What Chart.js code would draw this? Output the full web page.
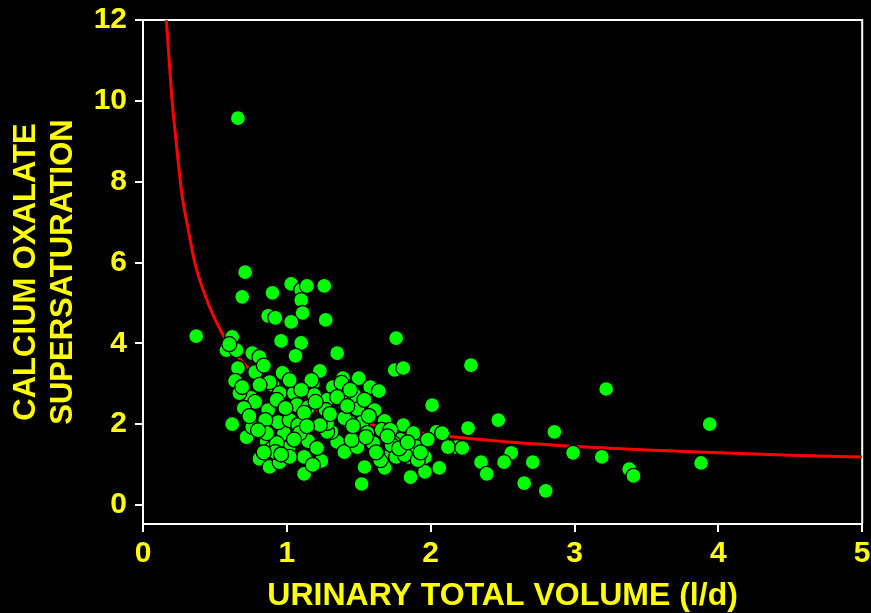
<!DOCTYPE html>
<html>
<head>
<meta charset="utf-8">
<script src="https://cdn.jsdelivr.net/npm/chart.js@4"></script>
<style>
  html, body { margin: 0; padding: 0; background: #000; }
  #chart { display: block; }
</style>
</head>
<body>
<canvas id="chart" width="871" height="613"></canvas>
<script>
// ---- data ----
// urinary total volume (l/d) for each patient
const volume = [
  0.66, 0.37, 0.71, 0.69, 0.90, 1.03, 1.10, 1.14, 1.10, 1.26, 1.11, 0.87, 0.92, 1.03, 1.27,
  0.62, 0.58, 0.65, 0.60, 0.96, 1.10, 1.06, 1.35, 1.76, 1.75, 1.81, 0.76, 0.81, 0.66, 0.78,
  0.64, 0.69, 0.75, 0.90, 0.95, 1.00, 0.97, 1.05, 1.23, 1.18, 1.39, 1.50, 1.58, 1.64, 1.32,
  1.38, 1.28, 0.87, 1.12, 1.27, 1.49, 1.52, 1.44, 0.62, 0.72, 0.76, 0.98, 0.86, 0.90, 1.01,
  0.81, 0.88, 1.15, 1.12, 1.24, 1.12, 1.35, 1.31, 1.40, 1.49, 1.68, 1.60, 1.54, 1.52, 1.68,
  1.79, 1.89, 1.85, 1.86, 1.96, 1.96, 1.65, 1.74, 0.94, 1.02, 1.08, 0.85, 0.67, 0.69, 0.93,
  1.07, 1.15, 1.09, 1.28, 0.93, 2.01, 1.38, 1.35, 1.81, 2.04, 2.18, 2.12, 2.06, 1.73, 1.45,
  2.47, 2.26, 2.22, 2.56, 2.51, 2.35, 2.39, 2.71, 2.65, 2.80, 2.08, 2.28, 2.86, 2.99, 3.19,
  3.22, 3.38, 3.41, 3.88, 3.94, 1.28, 1.56, 1.66, 1.73, 1.88, 1.76, 1.90, 0.78, 1.12, 0.86,
  0.95, 1.02, 0.92, 1.21, 1.18, 0.88, 1.17, 1.19, 1.47, 1.23, 1.40, 1.54, 1.02, 0.81, 1.61,
  1.72, 1.82, 1.91, 0.70, 0.74, 0.80, 0.84, 0.96, 1.05, 1.14, 1.20, 1.30, 1.42, 1.46, 1.55,
  1.62, 1.70, 1.78, 1.84, 1.93, 1.98, 1.10, 0.84, 1.44, 1.57, 0.99
];
// calcium oxalate supersaturation, same order
const supersat = [
  9.57, 4.18, 5.76, 5.15, 5.25, 5.47, 5.32, 5.42, 5.07, 5.42, 4.75, 4.68, 4.63, 4.53, 4.58,
  4.16, 3.83, 3.83, 3.98, 4.06, 4.01, 3.69, 3.76, 4.13, 3.34, 3.39, 3.76, 3.66, 3.39, 3.29,
  3.07, 2.85, 2.65, 2.97, 2.77, 3.17, 3.27, 2.77, 3.32, 3.02, 3.14, 3.14, 2.92, 2.82, 2.92,
  2.62, 2.60, 2.35, 2.23, 2.35, 2.38, 2.03, 2.03, 2.00, 1.68, 1.93, 1.78, 1.58, 1.41, 1.41,
  1.14, 0.94, 1.58, 1.19, 1.09, 0.77, 1.56, 1.81, 1.31, 1.43, 2.08, 1.53, 0.94, 0.52, 0.92,
  1.61, 1.68, 1.19, 0.69, 0.82, 1.19, 1.11, 1.53, 2.05, 2.10, 1.98, 2.10, 2.77, 2.92, 2.60,
  2.47, 2.42, 1.78, 1.81, 1.53, 2.47, 3.02, 2.67, 1.98, 1.81, 1.43, 1.43, 0.92, 1.31, 1.61,
  2.10, 1.90, 1.41, 1.29, 1.06, 1.06, 0.77, 1.06, 0.54, 0.35, 1.78, 3.46, 1.81, 1.29, 1.19,
  2.87, 0.89, 0.72, 1.04, 2.00, 2.03, 1.78, 1.86, 1.48, 1.78, 1.19, 1.43, 2.55, 2.28, 1.78,
  1.06, 1.19, 1.31, 1.41, 0.99, 3.04, 3.09, 2.72, 2.72, 1.98, 2.15, 2.60, 3.09, 2.97, 2.35,
  1.86, 1.24, 1.11, 2.40, 2.20, 1.85, 1.30, 1.25, 1.62, 1.95, 2.55, 2.25, 2.45, 1.95, 1.68,
  1.30, 1.70, 1.40, 1.55, 1.30, 1.62, 2.85, 3.45, 2.85, 2.20, 2.40
];
// red regression curve, sampled along the drawn line
const curveVolume = [0.16, 0.18, 0.20, 0.23, 0.27, 0.31, 0.36, 0.42, 0.50, 0.60, 0.70, 0.85,
  1.00, 1.25, 1.50, 1.75, 2.00, 2.50, 3.00, 3.50, 4.00, 4.50, 5.00];
const curveSupersat = [12.1, 11.1, 10.1, 9.0, 7.7, 6.9, 6.0, 5.3, 4.6, 3.95, 3.5, 3.05,
  2.7, 2.3, 2.05, 1.88, 1.75, 1.57, 1.45, 1.36, 1.29, 1.23, 1.19];

const xTicks = [0, 1, 2, 3, 4, 5];
const yTicks = [0, 2, 4, 6, 8, 10, 12];

// ---- styles ----
const YELLOW = '#ffff00';
const FONT = '"Liberation Sans", Arial, sans-serif';

const points = volume.map((v, i) => ({ x: v, y: supersat[i] }));
const curve = curveVolume.map((v, i) => ({ x: v, y: curveSupersat[i] }));

// top and right edges of the plot box
const frame = {
  id: 'frame',
  beforeDatasetsDraw(chart) {
    const { ctx, chartArea: a } = chart;
    ctx.save();
    ctx.strokeStyle = '#fff';
    ctx.lineWidth = 2;
    ctx.beginPath();
    ctx.moveTo(a.left, a.top);
    ctx.lineTo(a.right, a.top);
    ctx.lineTo(a.right, a.bottom);
    ctx.stroke();
    ctx.restore();
  }
};

function axisGrid() {
  return { display: true, drawOnChartArea: false, drawTicks: true, tickLength: 8, color: '#fff', lineWidth: 2 };
}

new Chart(document.getElementById('chart'), {
  type: 'scatter',
  data: {
    datasets: [
      {
        data: points,
        backgroundColor: '#00ff00',
        borderColor: '#000',
        borderWidth: 1.3,
        pointRadius: 7.5,
        pointHoverRadius: 7.5,
        order: 0
      },
      {
        data: curve,
        showLine: true,
        borderColor: '#ff0000',
        borderWidth: 3,
        pointRadius: 0,
        pointHoverRadius: 0,
        cubicInterpolationMode: 'monotone',
        order: 1
      }
    ]
  },
  options: {
    responsive: false,
    animation: false,
    events: [],
    layout: { padding: { top: 20, right: 8, left: 0, bottom: 0 } },
    plugins: { legend: { display: false }, tooltip: { enabled: false } },
    scales: {
      x: {
        type: 'linear',
        min: 0,
        max: 5,
        afterBuildTicks: s => { s.ticks = xTicks.map(v => ({ value: v })); },
        afterFit: s => { s.height = 89; s.paddingLeft = 0; s.paddingRight = 0; },
        grid: axisGrid(),
        border: { display: true, color: '#fff', width: 2 },
        ticks: { color: YELLOW, font: { family: FONT, size: 30, weight: 'bold' }, padding: 4, maxRotation: 0 },
        title: {
          display: true,
          text: 'URINARY TOTAL VOLUME (l/d)',
          color: YELLOW,
          font: { family: FONT, size: 32, weight: 'bold' },
          padding: { top: 0, bottom: -2 }
        }
      },
      y: {
        type: 'linear',
        min: -0.47,
        max: 12,
        afterBuildTicks: s => { s.ticks = yTicks.map(v => ({ value: v })); },
        afterFit: s => { s.width = 143; s.paddingTop = 0; s.paddingBottom = 0; },
        grid: axisGrid(),
        border: { display: true, color: '#fff', width: 2 },
        ticks: { color: YELLOW, font: { family: FONT, size: 30, weight: 'bold' }, padding: 8 },
        title: {
          display: true,
          text: ['CALCIUM OXALATE', 'SUPERSATURATION'],
          color: YELLOW,
          font: { family: FONT, size: 31, weight: 'bold' },
          padding: { top: 8, bottom: 0 }
        }
      }
    }
  },
  plugins: [frame]
});
</script>
</body>
</html>
